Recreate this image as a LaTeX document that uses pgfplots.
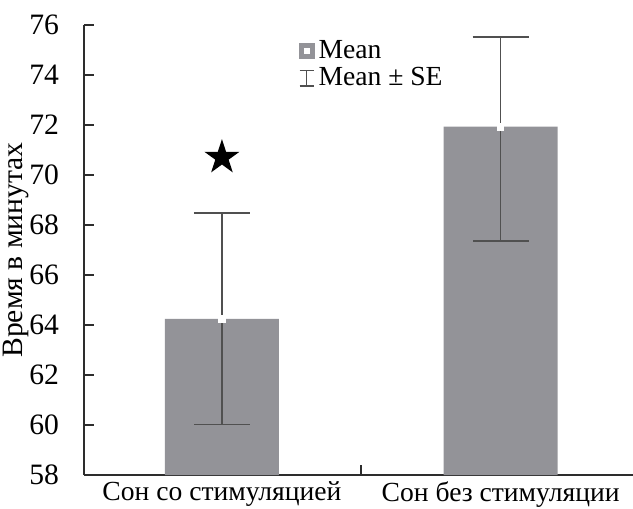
\documentclass[border=0pt]{standalone}
\usepackage{pgfplots}
\pgfplotsset{compat=1.18}
\usepackage{fontspec}
\setmainfont{Liberation Serif}
\definecolor{bargray}{RGB}{147,147,152}
\definecolor{errgray}{RGB}{80,80,80}
\definecolor{axgray}{RGB}{45,45,45}
\pgfdeclareplotmark{fstar}{%
 \pgfpathmoveto{\pgfpointpolar{90}{\pgfplotmarksize}}%
 \pgfpathlineto{\pgfpointpolar{126}{0.382\pgfplotmarksize}}%
 \pgfpathlineto{\pgfpointpolar{162}{\pgfplotmarksize}}%
 \pgfpathlineto{\pgfpointpolar{198}{0.382\pgfplotmarksize}}%
 \pgfpathlineto{\pgfpointpolar{234}{\pgfplotmarksize}}%
 \pgfpathlineto{\pgfpointpolar{270}{0.382\pgfplotmarksize}}%
 \pgfpathlineto{\pgfpointpolar{306}{\pgfplotmarksize}}%
 \pgfpathlineto{\pgfpointpolar{342}{0.382\pgfplotmarksize}}%
 \pgfpathlineto{\pgfpointpolar{18}{\pgfplotmarksize}}%
 \pgfpathlineto{\pgfpointpolar{54}{0.382\pgfplotmarksize}}%
 \pgfpathclose\pgfusepathqfill}
\newcommand{\fs}{\fontsize{13.8}{16}\selectfont}
\newcommand{\ft}{\fontsize{14.8}{17}\selectfont}
\newcommand{\fl}{\fontsize{14.8}{17}\selectfont}
\begin{document}
\begin{tikzpicture}
\begin{axis}[name=ax, scale only axis, width=274.5pt, height=225pt,
  xmin=-0.495, xmax=1.475, ymin=58, ymax=76,
  axis x line*=bottom, axis y line*=left,
  axis line style={draw=axgray, line width=0.8pt, -},
  tick align=inside, major tick length=5pt,
  tick style={draw=axgray, line width=0.8pt},
  ytick={58,60,...,76},
  yticklabel={\pgfmathprintnumber{\tick}},
  xtick={0.5}, xticklabels={},
  extra x ticks={0,1},
  extra x tick labels={Сон со стимуляцией, Сон без стимуляции},
  extra x tick style={major tick length=0pt},
  /pgf/number format/assume math mode=true,
  xticklabel style={font=\fs},
  yticklabel style={font=\ft, xshift=-9pt},
  label style={font=\fl},
  ylabel={Время в минутах},
  ylabel style={at={(axis description cs:-0.124,0.5)}, anchor=center},
  legend style={at={(axis description cs:0.39,0.975)}, anchor=north west,
    draw=none, fill=none, font=\fs, inner sep=0pt, row sep=-1pt,
    /tikz/every even column/.style={column sep=1pt}},
  legend cell align=left,
]
\addlegendimage{legend image code/.code={\fill[bargray] (0pt,-3.8pt) rectangle (7.6pt,3.8pt); \fill[white] (2.5pt,-1.3pt) rectangle (5.1pt,1.3pt);}}
\addlegendentry{Mean}
\addlegendimage{legend image code/.code={\draw[errgray, line width=0.6pt] (3.8pt,-3.8pt)--(3.8pt,3.8pt) (0.3pt,-3.8pt)--(7.3pt,-3.8pt) (0.3pt,3.8pt)--(7.3pt,3.8pt);}}
\addlegendentry{Mean ± SE}
\addplot[ybar, bar width=57pt, fill=bargray, draw=none, forget plot]
  coordinates {(0,64.25) (1,71.93)};
\addplot[only marks, mark=square*, mark size=1.6pt, mark options={fill=white, draw=white}, forget plot,
  error bars/.cd, y dir=both, y explicit,
  error bar style={errgray, line width=0.8pt},
  error mark options={rotate=90, mark size=14pt, errgray, line width=0.8pt}]
  coordinates {(0,64.25) +- (0,4.23) (1,71.93) += (0,3.58) -= (0,4.58)};
\addplot[only marks, mark=fstar, mark size=9.2pt, black, forget plot]
  coordinates {(0,70.7)};
\end{axis}
\pgfresetboundingbox
\path ([shift={(-42pt,-16.5pt)}]ax.south west) rectangle ([shift={(0pt,12.5pt)}]ax.north east);
\end{tikzpicture}
\end{document}
